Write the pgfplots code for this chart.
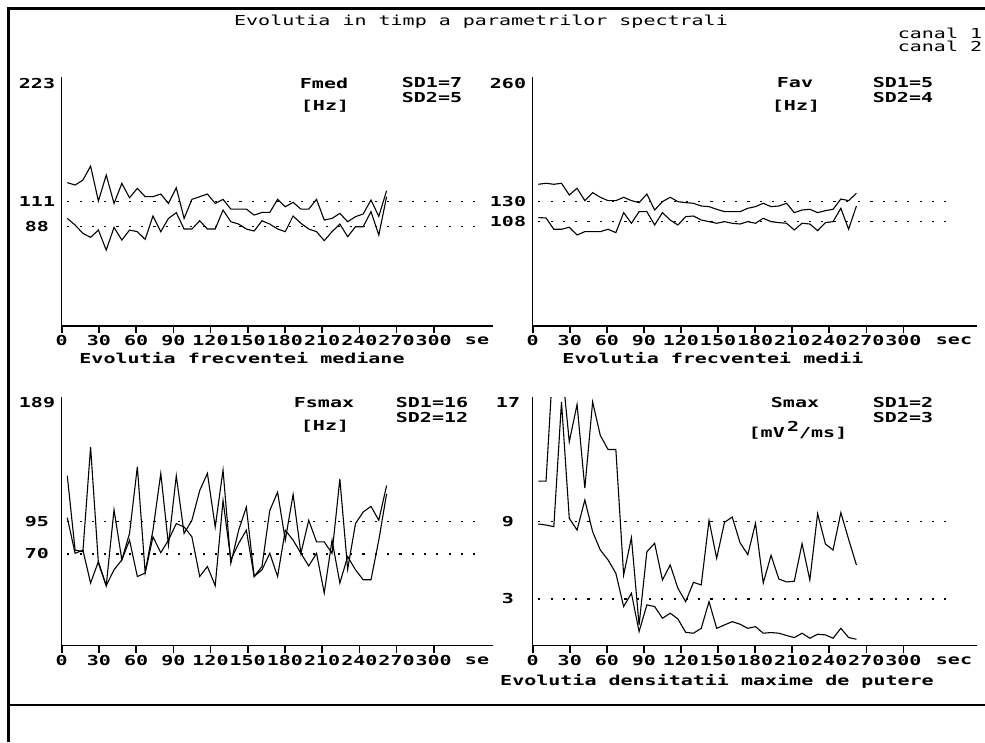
\documentclass[border=0pt]{standalone}
\usepackage{pgfplots}
\pgfplotsset{compat=1.18}
\usepackage{pgfplotstable}
\usepackage{fontspec}
\newfontfamily\dosfont{DejaVu Sans Mono}[FakeStretch=1.46]
\newcommand\dr{\dosfont\fontsize{13.7}{14}\selectfont}
\newcommand\db{\dosfont\bfseries\fontsize{13.7}{14}\selectfont}

% t [sec], canal 1 (a), canal 2 (b)
\pgfplotstableread{
t a b
4.5 128.8 95.4
10.8 126.6 89.2
17.1 131.2 81.4
23.3 144.3 77.7
29.6 111.6 84.5
35.9 135.9 65.8
42.2 109.4 87.0
48.5 128.1 75.2
54.7 114.7 84.5
61.0 123.5 83.0
67.3 115.7 75.8
73.6 115.7 97.6
79.9 118.2 83.0
86.1 109.4 95.4
92.4 124.1 100.7
98.7 95.4 85.5
105.0 113.2 85.5
111.3 115.7 93.2
117.5 118.2 85.5
123.8 109.4 85.5
130.1 113.2 103.2
136.4 104.1 92.3
142.7 104.1 90.1
148.9 104.1 85.5
155.2 98.5 83.6
161.5 101.0 93.2
167.8 101.0 90.1
174.1 113.2 85.5
180.3 106.3 83.0
186.6 110.4 97.6
192.9 104.1 90.8
199.2 104.1 85.5
205.5 113.2 83.0
211.7 93.9 74.6
218.0 95.4 83.0
224.3 100.1 90.1
230.6 92.3 78.3
236.9 97.0 87.6
243.1 99.5 87.6
249.4 112.6 101.7
255.7 97.3 79.8
262.0 121.3 115.7
}\fmed

\pgfplotstableread{
t a b
4.5 149.1 112.5
10.8 150.2 112.0
17.1 149.1 99.6
23.3 150.2 99.6
29.6 137.3 101.8
35.9 144.7 93.3
42.2 131.1 97.0
48.5 139.9 97.0
54.7 134.8 97.0
61.0 131.1 99.6
67.3 131.1 95.9
73.6 134.8 117.9
79.9 131.1 106.2
86.1 128.9 119.0
92.4 138.4 119.0
98.7 120.8 104.3
105.0 130.0 117.9
111.3 134.8 109.8
117.5 130.0 104.3
123.8 128.9 113.5
130.1 128.2 114.2
136.4 125.2 109.8
142.7 124.5 108.0
148.9 121.6 106.2
155.2 119.0 108.0
161.5 119.0 106.2
167.8 119.0 105.4
174.1 122.7 108.0
180.3 124.5 106.2
186.6 128.2 111.7
192.9 124.5 108.0
199.2 125.2 106.9
205.5 128.2 106.2
211.7 117.9 98.8
218.0 120.8 106.2
224.3 121.6 105.4
230.6 117.9 98.1
236.9 120.1 106.9
243.1 121.6 108.0
249.4 132.9 122.7
255.7 131.1 99.6
262.0 139.2 125.2
}\fav

\pgfplotstableread{
t a b
4.5 129.8 97.8
10.8 73.0 70.5
17.1 71.8 73.0
23.3 151.8 47.8
29.6 62.9 64.2
35.9 45.8 45.8
42.2 103.8 57.9
48.5 65.5 65.5
54.7 85.7 80.6
61.0 136.7 52.8
67.3 55.9 55.4
73.6 88.2 83.1
79.9 131.6 71.0
86.1 76.8 80.6
92.4 129.8 93.2
98.7 85.7 90.7
105.0 95.8 83.1
111.3 118.5 52.8
117.5 131.6 60.4
123.8 90.7 45.8
130.1 134.1 110.9
136.4 62.9 65.5
142.7 88.2 78.1
148.9 105.9 88.2
155.2 52.8 52.8
161.5 60.4 57.9
167.8 103.3 70.5
174.1 117.2 52.8
180.3 80.6 88.2
186.6 115.5 80.6
192.9 70.5 70.5
199.2 95.8 60.9
205.5 79.3 70.5
211.7 79.3 40.2
218.0 70.5 80.6
224.3 127.3 47.8
230.6 58.4 68.0
236.9 93.2 57.9
243.1 102.1 50.3
249.4 106.4 50.3
255.7 95.8 80.6
262.0 122.3 116.0
}\fsmax

\pgfplotstableread{
t a b
4.5 12.15 8.82
10.8 12.15 8.74
17.1 22.4 8.61
23.3 21.4 18.3
29.6 15.2 9.26
35.9 18.1 8.35
42.2 11.6 10.68
48.5 18.3 8.22
54.7 15.7 6.80
61.0 14.6 6.03
67.3 14.6 4.99
73.6 4.86 2.41
79.9 7.76 3.44
86.1 0.98 0.47
92.4 6.67 2.54
98.7 7.32 2.41
105.0 4.47 1.50
111.3 5.64 1.89
117.5 3.83 1.45
123.8 2.79 0.41
130.1 4.29 0.34
136.4 4.09 0.72
142.7 9.10 2.79
148.9 6.16 0.72
155.2 8.95 0.98
161.5 9.36 1.24
167.8 7.37 1.04
174.1 6.44 0.72
180.3 8.87 0.85
186.6 4.24 0.34
192.9 6.39 0.39
199.2 4.55 0.34
205.5 4.32 0.16
211.7 4.37 0.00
218.0 7.29 0.34
224.3 4.47 -0.05
230.6 9.62 0.26
236.9 7.27 0.21
243.1 6.80 -0.05
249.4 9.70 0.72
255.7 7.63 0.00
262.0 5.64 -0.13
}\smax

\pgfplotsset{
  panel/.style={
    scale only axis, anchor=south west,
    height=248.7pt, xmin=0,
    axis x line=bottom, axis y line=left,
    axis line style={-, line width=1.3pt, black},
    xtick={0,30,...,300},
    xticklabels={0,30,60,90,120,150,180,210,240,270,300},
    major tick length=0pt,
    every tick/.style={draw=none},
    xticklabel style={anchor=center, yshift=-15pt, font=\db},
    yticklabel style={anchor=center, xshift=-24.7pt, font=\db},
    extra y tick style={yticklabel style={yshift=-6pt}},
  },
  dat/.style={black, line width=1.1pt, no markers},
  ref/.style={black, line width=1.5pt, dash pattern=on 2.2pt off 10.1pt},
}

\begin{document}
\begin{tikzpicture}
\path[use as bounding box] (0pt,0pt) rectangle (985pt,742pt);
\draw[line width=3pt] (985pt,733.5pt) -- (8.5pt,733.5pt) -- (8.5pt,0pt);
\draw[line width=2pt] (8.5pt,37pt) -- (985pt,37pt);

\node[font=\dr] at (481pt,720pt) {Evolutia in timp a parametrilor spectrali};
\node[font=\dr] at (940pt,709pt) {canal 1};
\node[font=\dr] at (940pt,696pt) {canal 2};

% Fmed
\begin{axis}[panel, at={(61.7pt,416pt)}, width=431.3pt,
  xmax=347.8, ymin=-5.17, ymax=227.3,
  ytick={88,111}, yticklabels={88,111},
  extra y ticks={227.3}, extra y tick labels={223}]
  \addplot[ref] coordinates {(4.5,111) (337.5,111)};
  \addplot[ref] coordinates {(4.5,88) (337.5,88)};
  \addplot[dat] table[x=t,y=a] {\fmed};
  \addplot[dat] table[x=t,y=b] {\fmed};
\end{axis}

% Fav
\begin{axis}[panel, at={(532.7pt,416pt)}, width=444.3pt,
  xmax=359.6, ymin=-6.8, ymax=266.8,
  ytick={108,130}, yticklabels={108,130},
  extra y ticks={266.8}, extra y tick labels={260}]
  \addplot[ref] coordinates {(4.5,130) (337.5,130)};
  \addplot[ref] coordinates {(4.5,108) (337.5,108)};
  \addplot[dat] table[x=t,y=a] {\fav};
  \addplot[dat] table[x=t,y=b] {\fav};
\end{axis}

% Fsmax
\begin{axis}[panel, at={(61.7pt,96.3pt)}, width=431.3pt,
  xmax=347.8, ymin=-0.1, ymax=190,
  ytick={70,95}, yticklabels={70,95},
  extra y ticks={190}, extra y tick labels={189}]
  \addplot[ref] coordinates {(4.5,95) (337.5,95)};
  \addplot[ref] coordinates {(4.5,70) (337.5,70)};
  \addplot[dat] table[x=t,y=a] {\fsmax};
  \addplot[dat] table[x=t,y=b] {\fsmax};
\end{axis}

% Smax
\begin{axis}[panel, at={(532.7pt,96.3pt)}, width=444.3pt,
  xmax=359.6, ymin=-0.63, ymax=18.68,
  ytick={3,9}, yticklabels={3,9},
  extra y ticks={18.68}, extra y tick labels={17}]
  \addplot[ref] coordinates {(4.5,9) (337.5,9)};
  \addplot[ref] coordinates {(4.5,3) (337.5,3)};
  \addplot[dat] table[x=t,y=a] {\smax};
  \addplot[dat] table[x=t,y=b] {\smax};
\end{axis}

% short tick marks on the time axes (every 30 s)
\foreach \k in {0,...,10}{
  \draw[line width=1.6pt] (61.7pt+37.2pt*\k,409pt) -- (61.7pt+37.2pt*\k,416pt);
  \draw[line width=1.6pt] (61.7pt+37.2pt*\k,89.3pt) -- (61.7pt+37.2pt*\k,96.3pt);
  \draw[line width=1.6pt] (532.7pt+37.07pt*\k,409pt) -- (532.7pt+37.07pt*\k,416pt);
  \draw[line width=1.6pt] (532.7pt+37.07pt*\k,89.3pt) -- (532.7pt+37.07pt*\k,96.3pt);
}

% unit text after the last tick
\node[font=\db] at (477pt,401pt) {se};
\node[font=\db] at (954pt,401pt) {sec};
\node[font=\db] at (477pt,81.3pt) {se};
\node[font=\db] at (954pt,81.3pt) {sec};

\node[font=\db] at (324pt,659pt) {Fmed};
\node[font=\db] at (325pt,636pt) {[Hz]};
\node[font=\db] at (432pt,659pt) {SD1=7};
\node[font=\db] at (432pt,644pt) {SD2=5};
\node[font=\db] at (795pt,659pt) {Fav};
\node[font=\db] at (796pt,636pt) {[Hz]};
\node[font=\db] at (903pt,659pt) {SD1=5};
\node[font=\db] at (903pt,644pt) {SD2=4};
\node[font=\db] at (242pt,384pt) {Evolutia frecventei mediane};
\node[font=\db] at (713pt,384pt) {Evolutia frecventei medii};

\node[font=\db] at (324pt,339pt) {Fsmax};
\node[font=\db] at (325pt,316pt) {[Hz]};
\node[font=\db] at (432pt,339pt) {SD1=16};
\node[font=\db] at (432pt,324pt) {SD2=12};
\node[font=\db] at (795pt,339pt) {Smax};
\node[font=\db] at (798pt,312pt) {[mV\,\raisebox{6pt}{2}/ms]};
\node[font=\db] at (903pt,339pt) {SD1=2};
\node[font=\db] at (903pt,324pt) {SD2=3};
\node[font=\db] at (717pt,61pt) {Evolutia densitatii maxime de putere};
\end{tikzpicture}
\end{document}
